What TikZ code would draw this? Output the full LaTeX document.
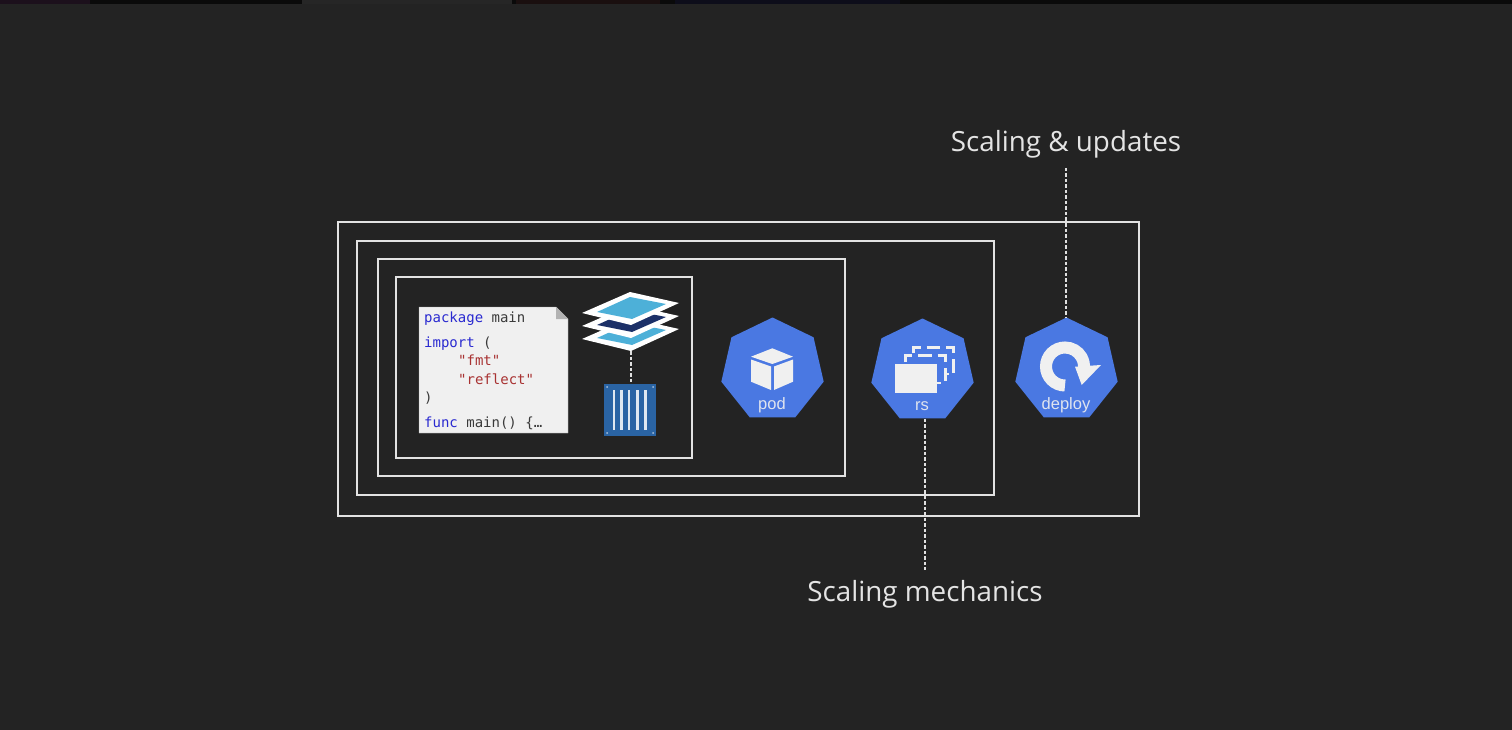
\documentclass[tikz,border=0pt]{standalone}
\usepackage{fontspec}
\setmainfont{Open Sans}
\newfontfamily\codefont{DejaVu Sans Mono}
\newfontfamily\iconfont{Liberation Sans}
\usetikzlibrary{positioning, shapes.geometric}

\definecolor{bgdark}{HTML}{232323}
\definecolor{framegray}{HTML}{E2E2E2}
\definecolor{kubeblue}{HTML}{4A78E2}
\definecolor{iconwhite}{HTML}{F0F0F0}
\definecolor{labelgray}{HTML}{E4E4E4}
\definecolor{codeblue}{HTML}{2A2AD0}
\definecolor{codered}{HTML}{A83232}
\definecolor{codegray}{HTML}{3A3A3A}
\definecolor{layerlight}{HTML}{4DB0D8}
\definecolor{layerdark}{HTML}{1C3068}
\definecolor{boxblue}{HTML}{2A64A4}
\definecolor{stripblack}{HTML}{0A0A0A}
\definecolor{stripviolet}{HTML}{1C101C}
\definecolor{stripgray}{HTML}{262626}
\definecolor{stripred}{HTML}{1A0F0F}
\definecolor{stripblue}{HTML}{0D0D1A}

\tikzset{
	frame/.style={draw=framegray, line width=2.4pt},
	kube/.style={regular polygon, regular polygon sides=7, fill=kubeblue, minimum size=105pt, inner sep=0pt},
	kubetext/.style={text=iconwhite!90!kubeblue, font=\iconfont\fontsize{16.5}{18}\selectfont},
	biglabel/.style={text=labelgray, font=\fontsize{27.8}{30}\selectfont},
	codeline/.style={anchor=base west, inner sep=0pt, text=codegray, font=\codefont\fontsize{14}{16}\selectfont},
	guide/.style={draw=white!88!black, line width=1.3pt, dash pattern=on 3.5pt off 2pt},
	rsdash/.style={draw=iconwhite, line width=3pt, dash pattern=on 13.5pt off 6pt}
}

\begin{document}
\begin{tikzpicture}[x=1pt, y=-1pt]
	\useasboundingbox (0,0) rectangle (1512,730);
	\fill[bgdark] (0,0) rectangle (1512,730);
	% strip along the top edge
	\fill[stripblack] (0,0) rectangle (1512,4.5);
	\fill[stripviolet] (0,0) rectangle (90,4.5);
	\fill[stripgray] (302,0) rectangle (512,4.5);
	\fill[stripred] (516,0) rectangle (660,4.5);
	\fill[stripblue] (675,0) rectangle (900,4.5);

	% nested frames
	\draw[frame] (338,222) rectangle (1139,516);
	\draw[frame] (357,241) rectangle (994,495);
	\draw[frame] (378,259) rectangle (845,476);
	\draw[frame] (396,277) rectangle (692,458);

	% source file
	\draw[fill=iconwhite, draw=black!35] (419,307) -- (556,307) -- (568,319) -- (568,433) -- (419,433) -- cycle;
	\fill[black!30] (556,307) -- (568,319) -- (556,319) -- cycle;
	\node[codeline] (line1) at (424,322) {\textcolor{codeblue}{package} main};
	\node[codeline] (line2) at (424,347) {\textcolor{codeblue}{import} (};
	\node[codeline, text=codered] (line3) at (458,365) {"fmt"};
	\node[codeline, text=codered] (line4) at (458,384) {"reflect"};
	\node[codeline] (line5) at (424,402) {)};
	\node[codeline] (line6) at (424,427) {\textcolor{codeblue}{func} main() \{…};

	% image layers
	\foreach \dy/\col in {26/layerlight, 13/layerdark, 0/layerlight}{
		\fill[white, yshift=-\dy pt] (630,292) -- (679,303) -- (631,325) -- (582,313) -- cycle;
		\fill[\col, yshift=-\dy pt] (630,297) -- (666,304) -- (632,319) -- (597,312) -- cycle;
	}
	\coordinate (stackend) at (631,351);

	% container
	\node[fill=boxblue, minimum width=52pt, minimum height=52pt, inner sep=0pt] (box) at (630,410) {};
	\foreach \x in {614,621.7,629,637.3,645.7}
		\draw[white!85!boxblue, line width=2.6pt] (\x,390) -- (\x,430);
	\foreach \x/\y in {607/387, 653/387, 607/433, 653/433}
		\fill[white!60!boxblue] (\x,\y) circle (1pt);
	\draw[guide, line width=2pt] (stackend) -- (stackend |- box.north);

	% pod
	\node[kube] (pod) at (772.5,370) {};
	\node[kubetext] (podtext) at (772,405) {pod};
	\fill[iconwhite] (772.3,348.3) -- (793,356.7) -- (772.3,364) -- (751,356.7) -- cycle;
	\fill[iconwhite] (751,359.5) -- (771,366.5) -- (771,390) -- (751,381.7) -- cycle;
	\fill[iconwhite] (793,359.5) -- (774,366.5) -- (774,390) -- (793,381.7) -- cycle;

	% rs
	\node[kube] (rs) at (922.5,371) {};
	\node[kubetext] (rstext) at (922,406) {rs};
	\fill[iconwhite] (895,364.3) rectangle (936.5,392.5);
	\draw[rsdash] (905,362) -- (905,355.7) -- (945,355.7) -- (945,381);
	\draw[rsdash] (913,353) -- (913,347) -- (953.5,347) -- (953.5,373);
	\draw[iconwhite, line width=2.6pt] (936,383) -- (941,383);
	\draw[iconwhite, line width=2.6pt] (945,374) -- (949,374);

	% deploy
	\node[kube] (deploy) at (1066.5,370) {};
	\node[kubetext] (deploytext) at (1066,405) {deploy};
	\draw[iconwhite, line width=12pt] (1065,385.5) arc[start angle=270, end angle=-8, radius=19pt];
	\fill[iconwhite] (1075,366.7) -- (1101,365) -- (1081.7,385) -- cycle;

	% labels
	\node[biglabel] (updates) at (1066,144) {Scaling \& updates};
	\node[biglabel] (mechanics) at (925,594) {Scaling mechanics};
	\coordinate (updatesend) at (1066,168);
	\coordinate (mechanicsend) at (925,570);
	\draw[guide] (updatesend) -- (updatesend |- deploy.north);
	\draw[guide] (mechanicsend |- rs.south) -- (mechanicsend);
\end{tikzpicture}
\end{document}
